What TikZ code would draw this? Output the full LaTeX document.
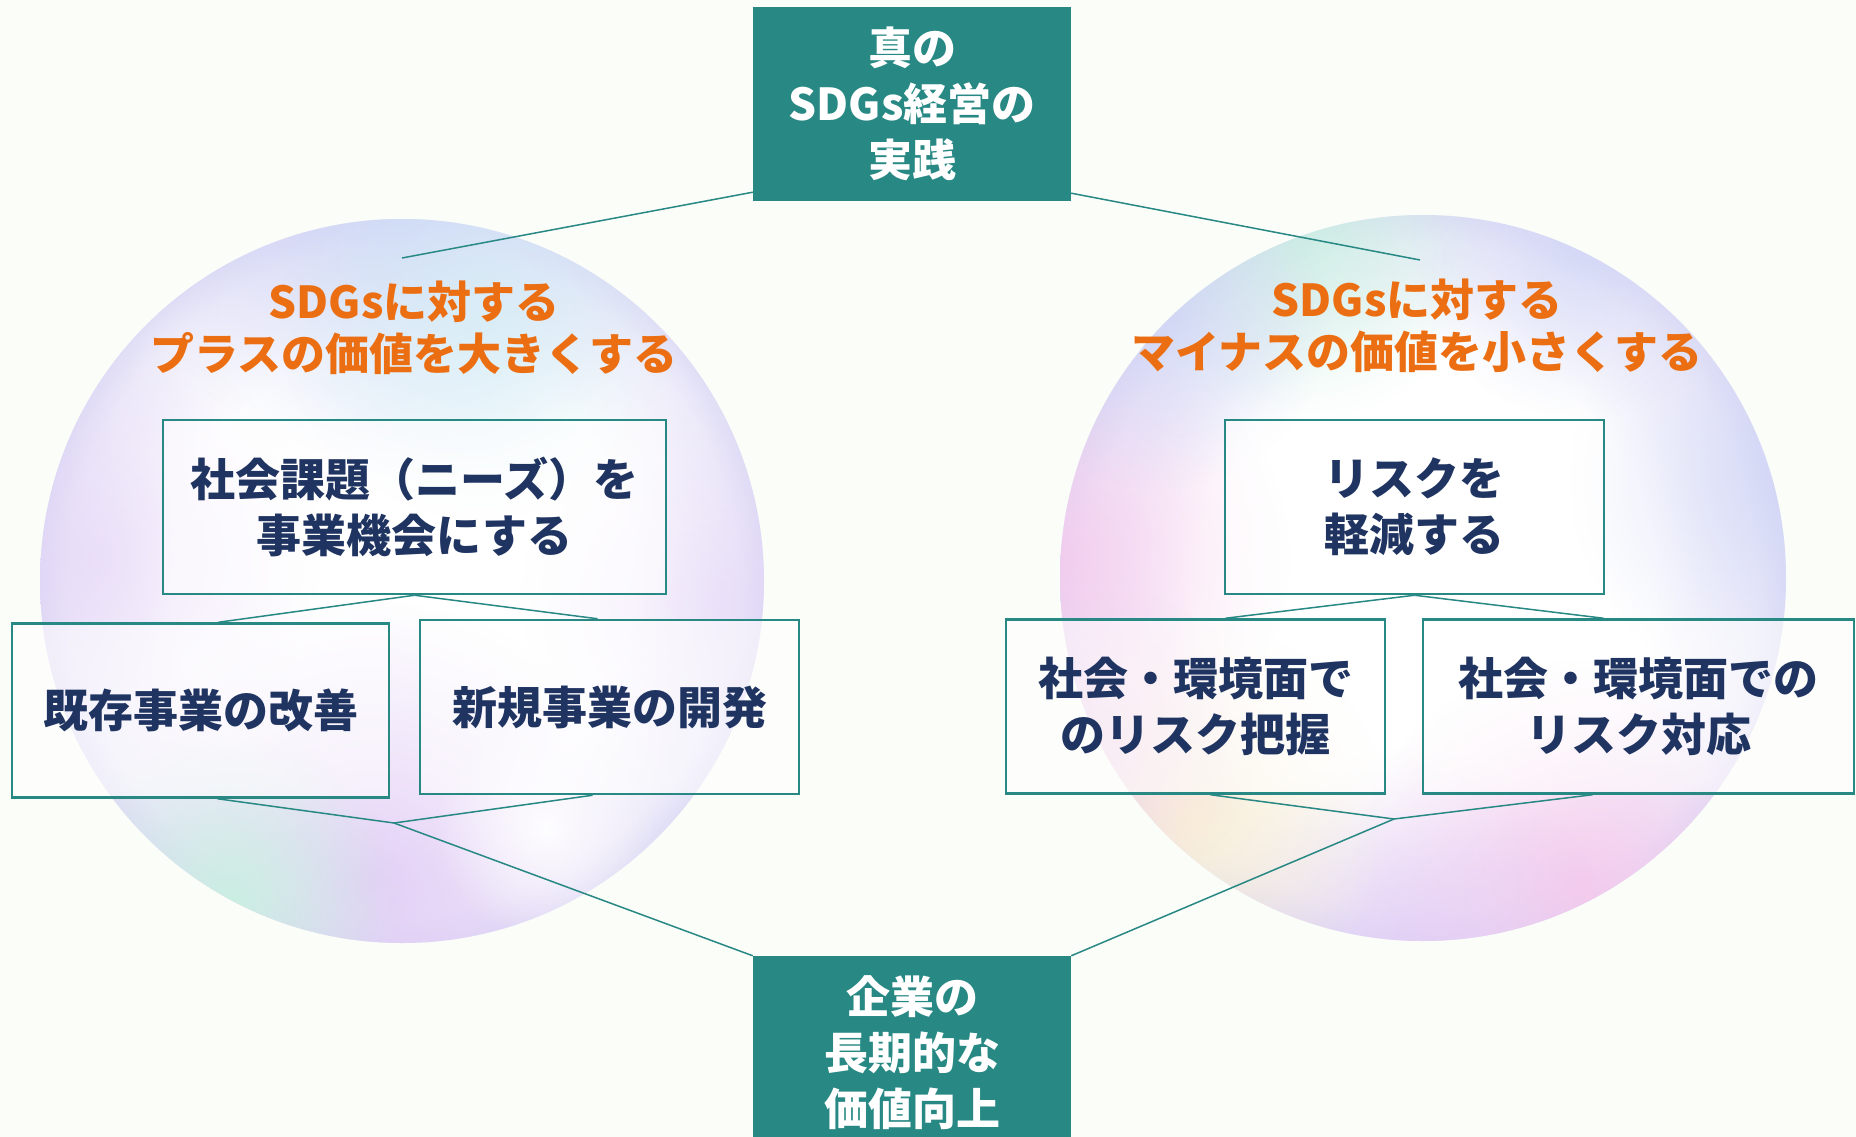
\documentclass[tikz,border=0pt]{standalone}
\usepackage{fontspec}
\usepackage{xcolor}
\usepackage{tikz}
\usetikzlibrary{fadings}
\newfontfamily\jpfont{Noto Sans CJK JP}
\definecolor{paper}{RGB}{251,253,249}
\definecolor{sdgteal}{RGB}{40,136,132}
\definecolor{navy}{RGB}{32,52,98}
\definecolor{sdgorange}{RGB}{236,110,18}
\definecolor{lav}{RGB}{238,236,250}
\definecolor{lavrim}{RGB}{224,222,246}
\definecolor{bblue}{RGB}{205,212,246}
\definecolor{bmint}{RGB}{200,242,224}
\definecolor{bcyan}{RGB}{212,240,246}
\definecolor{bpink}{RGB}{246,200,236}
\definecolor{blilac}{RGB}{226,204,246}
\definecolor{bcream}{RGB}{252,242,212}
\pgfdeclareradialshading{bubble}{\pgfpointorigin}{color(0bp)=(white); color(16bp)=(white); color(23bp)=(lav); color(25bp)=(lavrim); color(50bp)=(lavrim)}
\tikzfading[name=softblob, inner color=transparent!0, outer color=transparent!100]

\begin{document}
\begin{tikzpicture}[x=1pt, y=-1pt,
    hub/.style={fill=sdgteal, text=white, minimum width=318pt, minimum height=194pt, inner sep=0pt, align=center, font=\jpfont\bfseries\fontsize{44}{56}\selectfont},
    card/.style={draw=sdgteal, line width=2.5pt, fill=white, fill opacity=0.55, text opacity=1, text=navy, inner sep=0pt, align=center, minimum height=174pt, font=\jpfont\bfseries\fontsize{45}{56}\selectfont},
    head/.style={text=sdgorange, align=center, inner sep=0pt, font=\jpfont\bfseries\fontsize{44}{52}\selectfont},
    link/.style={draw=sdgteal, line width=1.5pt},
    blob/.style={path fading=softblob}]
    \fill[paper] (0,0) rectangle (1856,1137);
    \useasboundingbox (0,0) rectangle (1856,1137);
    \clip (0,0) rectangle (1856,1137);

    \coordinate (lc) at (402,581);
    \coordinate (rc) at (1423,578);

    \begin{scope}
        \clip (lc) circle (362);
        \shade[shading=bubble] (lc) circle (362);
        \foreach \px/\py/\rr/\cc/\oo in {402/220/260/bblue/.8, 480/320/200/bcyan/.7, 100/560/220/blilac/.5,
            720/600/200/blilac/.4, 370/880/280/blilac/.9, 230/900/170/bmint/.9, 545/829/110/white/.9}
            \fill[\cc, fill opacity=\oo, blob] (\px,\py) circle (\rr);
    \end{scope}

    \begin{scope}
        \clip (rc) circle (363);
        \shade[shading=bubble] (rc) circle (363);
        \foreach \px/\py/\rr/\cc/\oo in {1060/560/230/bpink/.8, 1302/230/190/bmint/.8, 1160/320/170/bblue/.7,
            1580/250/170/bblue/.6, 1790/480/220/bblue/.7, 1580/890/230/bpink/.9, 1410/950/200/blilac/.7,
            1190/820/200/bcream/.9, 1110/740/150/bpink/.5, 1410/590/240/white/.7}
            \fill[\cc, fill opacity=\oo, blob] (\px,\py) circle (\rr);
    \end{scope}

    \node[hub] (top) at (912,104) {真の\\SDGs経営の\\実践};
    \node[hub] (bottom) at (912,1053) {企業の\\長期的な\\価値向上};

    \node[head] (lhead) at (414,328) {SDGsに対する\\プラスの価値を大きくする};
    \node[head] (rhead) at (1417,326) {SDGsに対する\\マイナスの価値を小さくする};

    \node[card, minimum width=503pt] (lmain) at (414.5,507) {社会課題（ニーズ）を\\事業機会にする};
    \node[card, minimum width=377pt] (lsubA) at (200.5,710.5) {既存事業の改善};
    \node[card, minimum width=379pt] (lsubB) at (609.5,707) {新規事業の開発};
    \node[card, minimum width=379pt] (rmain) at (1414.5,507) {リスクを\\軽減する};
    \node[card, minimum width=379pt] (rsubA) at (1195.5,706.5) {社会・環境面で\\のリスク把握};
    \node[card, minimum width=431pt] (rsubB) at (1638.5,706.5) {社会・環境面での\\リスク対応};

    \coordinate (ltip) at (402,258);
    \coordinate (rtip) at (1420,260);
    \coordinate (ljoin) at (394,823);
    \coordinate (rjoin) at (1394,819);

    \draw[link] ([yshift=9pt]top.south west) -- (ltip);
    \draw[link] ([yshift=8pt]top.south east) -- (rtip);
    \draw[link] (lmain.south) -- ([xshift=18pt]lsubA.north);
    \draw[link] (lmain.south) -- ([xshift=-12pt]lsubB.north);
    \draw[link] ([xshift=17pt]lsubA.south) -- (ljoin) -- ([xshift=-17pt]lsubB.south);
    \draw[link] (ljoin) -- (bottom.north west);
    \draw[link] (rmain.south) -- ([xshift=30pt]rsubA.north);
    \draw[link] (rmain.south) -- ([xshift=-35pt]rsubB.north);
    \draw[link] ([xshift=15pt]rsubA.south) -- (rjoin) -- ([xshift=-46pt]rsubB.south);
    \draw[link] (rjoin) -- (bottom.north east);
\end{tikzpicture}
\end{document}
